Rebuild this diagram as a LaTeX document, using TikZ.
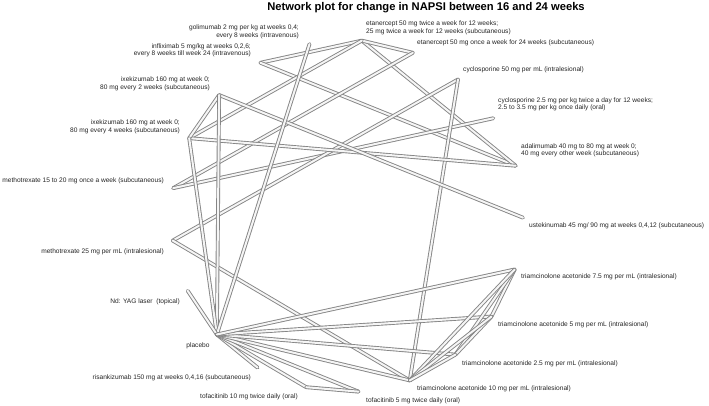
\documentclass[tikz,border=0pt]{standalone}
\usepackage{fontspec}
\setmainfont{Liberation Sans}
\usetikzlibrary{calc}
\newcommand\lblfont{\fontsize{6.6}{7.5}\selectfont}
\newcommand\ttlfont{\fontsize{11.2}{13}\selectfont\bfseries}
\begin{document}
\begin{tikzpicture}[x=1pt,y=1pt,
  edge/.style={draw=black!48, line width=0.9pt, double=black!4, double distance=2pt, line cap=round},
  lbl/.style={inner sep=0pt, font=\lblfont, text=black!85},
  lblL/.style={lbl, anchor=east, align=right},
  lblR/.style={lbl, anchor=west, align=left}]
\useasboundingbox (0,0) rectangle (709,405);
\fill[white] (0,0) rectangle (709,405);

% treatments placed on a circle, in alphabetical order
\coordinate (ctr) at (347,189);
\coordinate (A)   at ($(ctr)+(16.6:176)$);
\coordinate (CO)  at ($(ctr)+(33.74:176)$);
\coordinate (C50) at ($(ctr)+(50.89:176)$);
\coordinate (E1)  at ($(ctr)+(68.03:176)$);
\coordinate (E2)  at ($(ctr)+(85.17:176)$);
\coordinate (G)   at ($(ctr)+(102.31:176)$);
\coordinate (IF)  at ($(ctr)+(119.46:176)$);
\coordinate (I2)  at ($(ctr)+(136.6:176)$);
\coordinate (I4)  at ($(ctr)+(153.74:176)$);
\coordinate (MS)  at ($(ctr)+(170.89:176)$);
\coordinate (MI)  at ($(ctr)+(188.03:176)$);
\coordinate (N)   at ($(ctr)+(205.17:176)$);
\coordinate (P)   at ($(ctr)+(222.31:176)$);
\coordinate (R)   at ($(ctr)+(239.46:176)$);
\coordinate (F10) at ($(ctr)+(256.6:176)$);
\coordinate (F5)  at ($(ctr)+(273.74:176)$);
\coordinate (T10) at ($(ctr)+(290.89:176)$);
\coordinate (T25) at ($(ctr)+(308.03:176)$);
\coordinate (T5)  at ($(ctr)+(325.17:176)$);
\coordinate (T75) at ($(ctr)+(342.31:176)$);
\coordinate (U)   at ($(ctr)+(359.46:176)$);

% direct comparisons
\draw[edge] (IF) -- (E2);
\draw[edge] (IF) -- (A);
\draw[edge] (E2) -- (A);
\draw[edge] (E2) -- (E1);
\draw[edge] (E2) -- (I4);
\draw[edge] (E1) -- (MS);
\draw[edge] (MS) -- (CO);
\draw[edge] (MI) -- (C50);
\draw[edge] (MI) -- (T10);
\draw[edge] (C50) -- (T10);
\draw[edge] (I4) -- (A);
\draw[edge] (I4) -- (I2);
\draw[edge] (I2) -- (U);
\draw[edge] (I2) -- (P);
\draw[edge] (I4) -- (P);
\draw[edge] (G) -- (P);
\draw[edge] (N) -- (P);
\draw[edge] (R) -- (P);
\draw[edge] (F10) -- (P);
\draw[edge] (F5) -- (P);
\draw[edge] (F10) -- (F5);
\draw[edge] (T10) -- (P);
\draw[edge] (T25) -- (P);
\draw[edge] (T5) -- (P);
\draw[edge] (T75) -- (P);
\draw[edge] (T75) -- (T5);
\draw[edge] (T75) -- (T25);
\draw[edge] (T75) -- (T10);
\draw[edge] (T5) -- (T25);
\draw[edge] (T5) -- (T10);
\draw[edge] (T25) -- (T10);

% title
\node[inner sep=0pt, font=\ttlfont] (title) at (426,397) {Network plot for change in NAPSI between 16 and 24 weeks};

% treatment labels
\node[lblL] (lG)   at (299,373) {golimumab 2 mg per kg at weeks 0,4;\\every 8 weeks (intravenous)};
\node[lblL] (lIF)  at (251,354.5) {infliximab 5 mg/kg at weeks 0,2,6;\\every 8 weeks till week 24 (intravenous)};
\node[lblL] (lI2)  at (210,321) {ixekizumab 160 mg at week 0;\\80 mg every 2 weeks (subcutaneous)};
\node[lblL] (lI4)  at (180,278) {ixekizumab 160 mg at week 0;\\80 mg every 4 weeks (subcutaneous)};
\node[lblL] (lMS)  at (164,224) {methotrexate 15 to 20 mg once a week (subcutaneous)};
\node[lblL] (lMI)  at (164,153) {methotrexate 25 mg per mL (intralesional)};
\node[lblL] (lN)   at (180,103) {Nd: YAG laser\ \ (topical)};
\node[lbl]  (lP)   at (198,59) {placebo};
\node[lblL] (lR)   at (251,27) {risankizumab 150 mg at weeks 0,4,16 (subcutaneous)};
\node[lblR] (lF10) at (200,8) {tofacitinib 10 mg twice daily (oral)};
\node[lblR] (lF5)  at (366,4) {tofacitinib 5 mg twice daily (oral)};
\node[lblR] (lT10) at (417,16) {triamcinolone acetonide 10 mg per mL (intralesional)};
\node[lblR] (lT25) at (462,41) {triamcinolone acetonide 2.5 mg per mL (intralesional)};
\node[lblR] (lT5)  at (498,80) {triamcinolone acetonide 5 mg per mL (intralesional)};
\node[lblR] (lT75) at (521,128) {triamcinolone acetonide 7.5 mg per mL (intralesional)};
\node[lblR] (lU)   at (529,179) {ustekinumab 45 mg/ 90 mg at weeks 0,4,12 (subcutaneous)};
\node[lblR] (lA)   at (521,254.5) {adalimumab 40 mg to 80 mg at week 0;\\40 mg every other week (subcutaneous)};
\node[lblR] (lCO)  at (498,300.5) {cyclosporine 2.5 mg per kg twice a day for 12 weeks;\\2.5 to 3.5 mg per kg once daily (oral)};
\node[lblR] (lC50) at (463,335) {cyclosporine 50 mg per mL (intralesional)};
\node[lblR] (lE1)  at (417,362) {etanercept 50 mg once a week for 24 weeks (subcutaneous)};
\node[lblR] (lE2)  at (366,377) {etanercept 50 mg twice a week for 12 weeks;\\25 mg twice a week for 12 weeks (subcutaneous)};
\end{tikzpicture}
\end{document}
